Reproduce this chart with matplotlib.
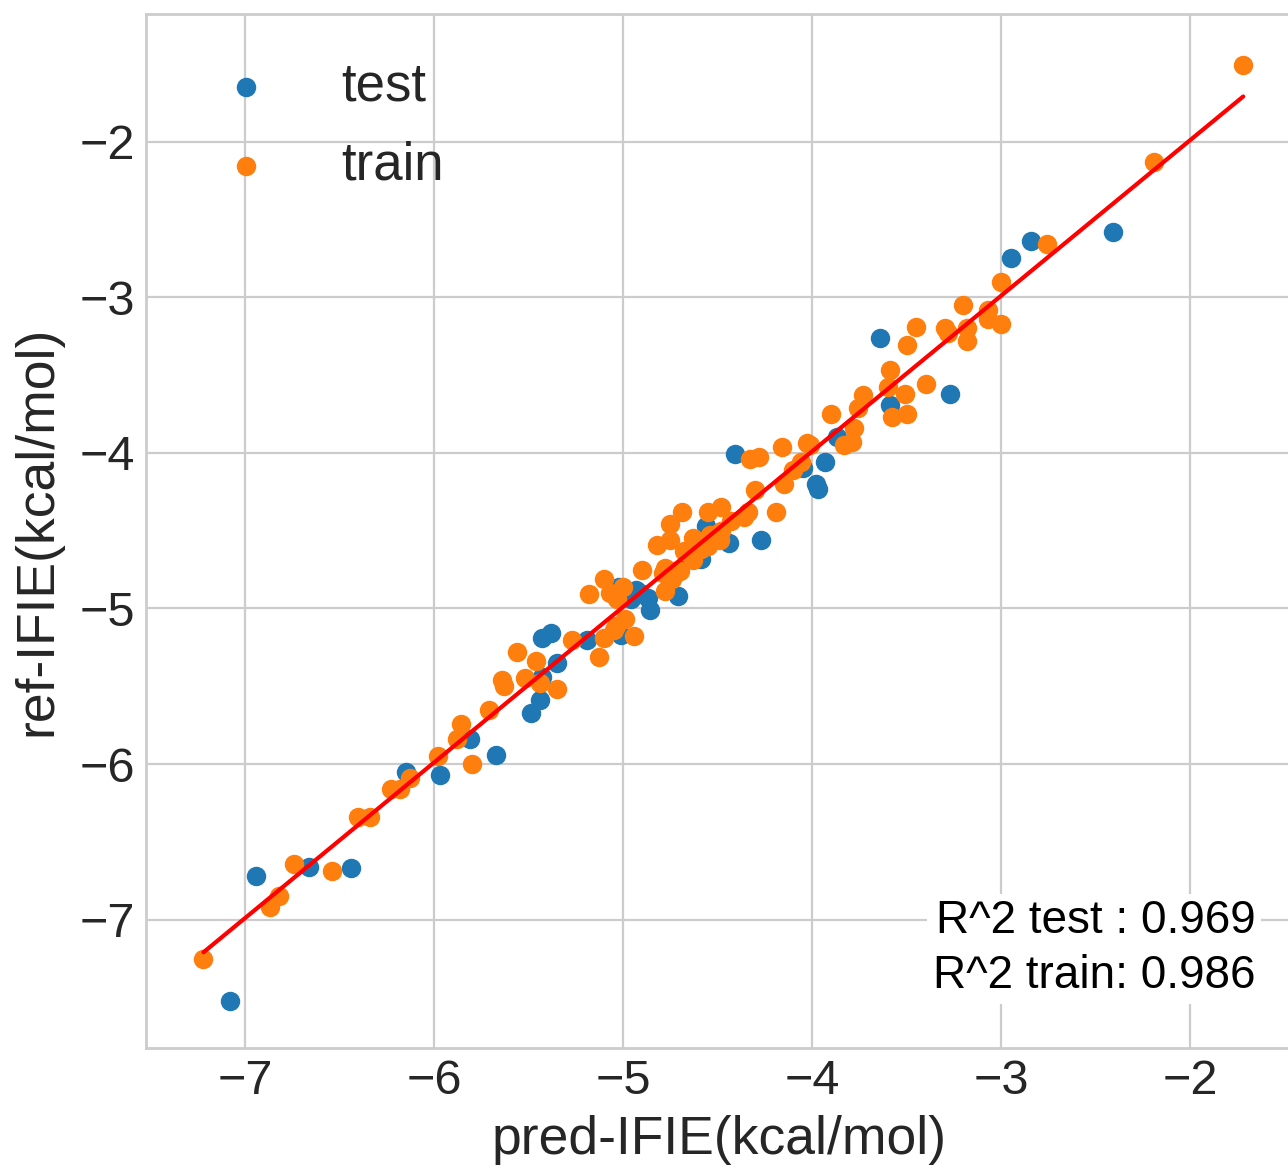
import matplotlib
matplotlib.use("Agg")
import matplotlib.pyplot as plt
import numpy as np

# ---- data ----
test_pred = [-7.08, -6.94, -6.66, -6.44, -6.15, -5.97, -5.81, -5.67, -5.49, -5.44,
             -5.43, -5.43, -5.38, -5.35, -5.19, -5.01, -5.02, -4.96, -4.91, -4.86,
             -4.87, -4.93, -4.71, -4.66, -4.59, -4.56, -4.44, -4.27, -4.41, -4.05,
             -3.93, -3.98, -3.97, -3.87, -3.59, -3.64, -3.27, -2.95, -2.84, -2.41]
test_ref = [-7.52, -6.72, -6.66, -6.67, -6.05, -6.07, -5.84, -5.94, -5.67, -5.59,
            -5.44, -5.19, -5.16, -5.35, -5.20, -5.17, -4.86, -4.94, -4.90, -5.01,
            -4.93, -4.88, -4.92, -4.67, -4.68, -4.47, -4.58, -4.56, -4.01, -4.10,
            -4.06, -4.20, -4.23, -3.90, -3.69, -3.26, -3.62, -2.75, -2.64, -2.58]

train_pred = [-7.22, -6.87, -6.82, -6.74, -6.54, -6.40, -6.34, -6.23, -6.18, -6.13,
              -5.98, -5.88, -5.86, -5.80, -5.71, -5.64, -5.63, -5.56, -5.52, -5.46,
              -5.44, -5.35, -5.27, -5.13, -5.10, -5.05, -5.18, -5.10, -5.04, -4.99,
              -4.94, -5.07, -5.00, -5.03, -4.90, -4.82, -4.78, -4.79, -4.75, -4.75,
              -4.69, -4.72, -4.74, -4.68, -4.63, -4.63, -4.59, -4.55, -4.54, -4.55,
              -4.48, -4.49, -4.43, -4.36, -4.34, -4.30, -4.48, -4.19, -4.33, -4.28,
              -4.16, -4.15, -4.10, -4.06, -4.03, -4.01, -3.90, -3.83, -3.79, -3.78,
              -3.76, -3.73, -3.59, -3.60, -3.58, -3.51, -3.50, -3.40, -3.50, -3.45,
              -3.30, -3.28, -3.20, -3.18, -3.18, -3.07, -3.07, -3.00, -3.00, -2.76,
              -2.19, -1.72, -4.78, -4.74, -4.70]
train_ref = [-7.25, -6.92, -6.85, -6.64, -6.69, -6.34, -6.34, -6.16, -6.16, -6.09,
             -5.95, -5.84, -5.74, -6.00, -5.65, -5.46, -5.50, -5.28, -5.45, -5.34,
             -5.48, -5.52, -5.20, -5.31, -5.19, -5.14, -4.91, -4.81, -5.11, -5.07,
             -5.18, -4.90, -4.86, -4.94, -4.75, -4.59, -4.89, -4.77, -4.46, -4.56,
             -4.38, -4.77, -4.81, -4.63, -4.69, -4.55, -4.62, -4.60, -4.53, -4.38,
             -4.35, -4.56, -4.44, -4.41, -4.38, -4.24, -4.50, -4.38, -4.04, -4.03,
             -3.96, -4.20, -4.11, -4.06, -3.94, -3.95, -3.75, -3.95, -3.93, -3.84,
             -3.71, -3.63, -3.47, -3.58, -3.77, -3.62, -3.75, -3.56, -3.31, -3.19,
             -3.20, -3.23, -3.05, -3.20, -3.28, -3.08, -3.14, -3.17, -2.90, -2.66,
             -2.13, -1.51, -4.74, -4.76, -4.76]

fit_slope = 1.0
fit_intercept = 0.01

r2_test = 0.969
r2_train = 0.986

series_labels = ["test", "train"]
x_label = "pred-IFIE(kcal/mol)"
y_label = "ref-IFIE(kcal/mol)"

# ---- style ----
plt.style.use("seaborn-v0_8-whitegrid")
plt.rcParams["font.family"] = ["Liberation Sans", "DejaVu Sans"]

W, H, DPI = 1288, 1168, 200
fig = plt.figure(figsize=(W / DPI, H / DPI), dpi=DPI)
ax = fig.add_axes([146 / W, 1 - 1048 / H, (1292 - 146) / W, (1048 - 14) / H])

ax.scatter(test_pred, test_ref, s=36, color="#1f77b4", label=series_labels[0], zorder=3)
ax.scatter(train_pred, train_ref, s=36, color="#ff7f0e", label=series_labels[1], zorder=3)

all_x = np.array(test_pred + train_pred)
lx = np.array([all_x.min(), all_x.max()])
ax.plot(lx, fit_slope * lx + fit_intercept, color="red", lw=1.5, zorder=4)

ax.set_xlim(-7.524, -1.462)
ax.set_ylim(-7.825, -1.18)
ax.set_xticks([-7, -6, -5, -4, -3, -2])
ax.set_yticks([-7, -6, -5, -4, -3, -2])
ax.tick_params(axis="both", labelsize=17.5, pad=4)

ax.set_xlabel(x_label, fontsize=19.25, labelpad=4)
ax.set_ylabel(y_label, fontsize=19.25, labelpad=6)

ax.legend(loc="upper left", fontsize=19, frameon=False, labelspacing=0.55)

ax.text(0.968, 0.048, f"R^2 test : {r2_test}\nR^2 train: {r2_train}",
        transform=ax.transAxes, ha="right", va="bottom", fontsize=16.5,
        color="black", linespacing=1.32,
        bbox=dict(facecolor="white", edgecolor="none", pad=2))

fig.savefig("out.png", dpi=DPI)
